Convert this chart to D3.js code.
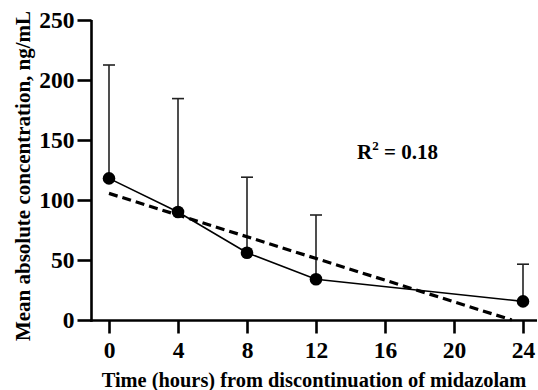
<!DOCTYPE html>
<html>
<head>
<meta charset="utf-8">
<script src="https://cdn.jsdelivr.net/npm/d3@7"></script>
<style>
  html, body { margin: 0; padding: 0; background: #fff; }
  svg { display: block; }
</style>
</head>
<body>
<svg id="chart" width="538" height="390"></svg>
<script>
// ---- data ----
const hours = [0, 4, 8, 12, 24];
const meanConc = [118, 90, 56, 34, 15.5];
const sdUpper = [212.5, 184.5, 119, 87.5, 46.5];
const fitHours = [0, 23.35];
const fitValues = [105.5, 0];
const xTicks = [0, 4, 8, 12, 16, 20, 24];
const yTicks = [0, 50, 100, 150, 200, 250];
const rSquaredLabel = "0.18";
const xTitle = "Time (hours) from discontinuation of midazolam";
const yTitle = "Mean absolute concentration, ng/mL";

const FONT = '"Liberation Serif", "Times New Roman", serif';
function styleText(sel, size) {
  return sel.style("font-family", FONT).style("font-weight", "bold")
    .style("font-size", size + "px").style("fill", "#000");
}

// ---- layout ----
const svg = d3.select("#chart");
const x = d3.scaleLinear().domain([0, 24]).range([109, 523]);
const y = d3.scaleLinear().domain([0, 250]).range([320, 20]);
const axisX0 = 91.5, axisY0 = 320.5;

// axes lines
svg.append("line").attr("x1", axisX0).attr("x2", axisX0).attr("y1", y(250)).attr("y2", axisY0 + 1.2)
  .attr("stroke", "#000").attr("stroke-width", 2.6);
svg.append("line").attr("x1", axisX0 - 1.2).attr("x2", 537).attr("y1", axisY0).attr("y2", axisY0)
  .attr("stroke", "#000").attr("stroke-width", 2.6);

// x axis
const gx = svg.append("g").attr("transform", `translate(0,${axisY0})`)
  .call(d3.axisBottom(x).tickValues(xTicks).tickSize(13).tickPadding(6).tickFormat(d3.format("d")));
gx.select(".domain").remove();
gx.selectAll(".tick line").attr("stroke", "#000").attr("stroke-width", 2.6);
styleText(gx.selectAll(".tick text"), 23.5).attr("y", 37.5).attr("dy", null);

// y axis
const gy = svg.append("g").attr("transform", `translate(${axisX0},0)`)
  .call(d3.axisLeft(y).tickValues(yTicks).tickSize(14).tickPadding(3).tickFormat(d3.format("d")));
gy.select(".domain").remove();
gy.selectAll(".tick line").attr("stroke", "#000").attr("stroke-width", 2.6);
styleText(gy.selectAll(".tick text"), 23.5).attr("dy", "0.33em");

// error bars (upper only)
const pts = hours.map((h, i) => ({ h, m: meanConc[i], u: sdUpper[i] }));
const eb = svg.append("g");
eb.selectAll("line.v").data(pts).enter().append("line")
  .attr("x1", d => x(d.h)).attr("x2", d => x(d.h))
  .attr("y1", d => y(d.m)).attr("y2", d => y(d.u))
  .attr("stroke", "#222").attr("stroke-width", 1.6);
eb.selectAll("line.c").data(pts).enter().append("line")
  .attr("x1", d => x(d.h) - 6).attr("x2", d => x(d.h) + 6)
  .attr("y1", d => y(d.u)).attr("y2", d => y(d.u))
  .attr("stroke", "#222").attr("stroke-width", 1.6);

// regression line
svg.append("path")
  .datum(fitHours.map((h, i) => [h, fitValues[i]]))
  .attr("d", d3.line().x(d => x(d[0])).y(d => y(d[1])))
  .attr("fill", "none").attr("stroke", "#000").attr("stroke-width", 3.2)
  .attr("stroke-dasharray", "9,5");

// mean line
svg.append("path")
  .datum(pts)
  .attr("d", d3.line().x(d => x(d.h)).y(d => y(d.m)))
  .attr("fill", "none").attr("stroke", "#000").attr("stroke-width", 1.6);

// markers
svg.selectAll("circle.pt").data(pts).enter().append("circle")
  .attr("cx", d => x(d.h)).attr("cy", d => y(d.m)).attr("r", 6.3).attr("fill", "#000");

// R^2 label
const rt = styleText(svg.append("text").attr("x", 357).attr("y", 159), 21);
rt.append("tspan").text("R");
rt.append("tspan").text("2").style("font-size", "13px").attr("dy", -9);
rt.append("tspan").text(" = " + rSquaredLabel).attr("dy", 9);

// axis titles
styleText(svg.append("text").attr("x", 314).attr("y", 386.5).attr("text-anchor", "middle"), 20.4)
  .text(xTitle);
styleText(svg.append("text").attr("transform", "translate(30,176) rotate(-90)").attr("text-anchor", "middle"), 21)
  .text(yTitle);
</script>
</body>
</html>
